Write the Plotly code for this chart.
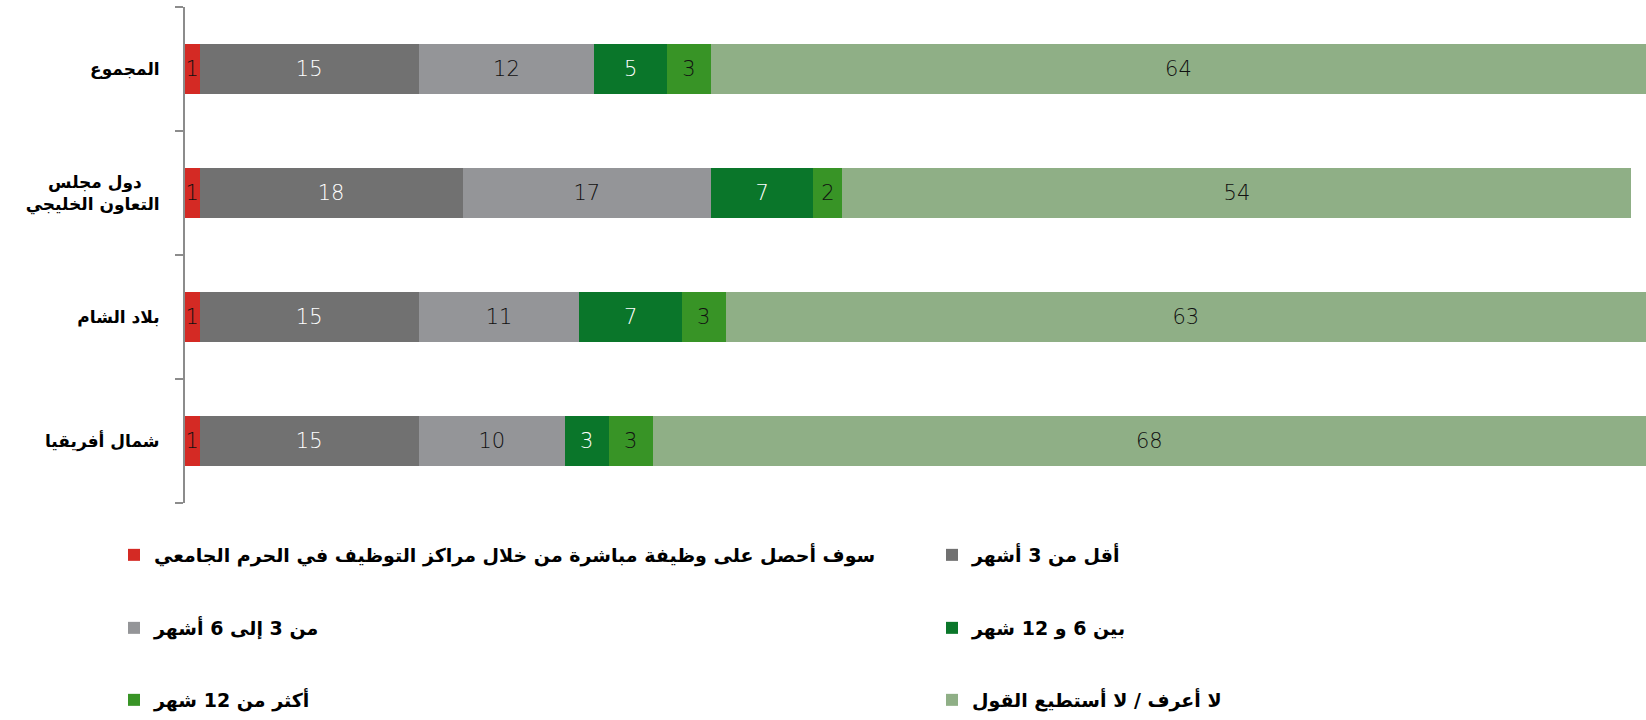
import plotly.graph_objects as go

categories = ["المجموع", "دول مجلس التعاون الخليجي", "بلاد الشام", "شمال أفريقيا"]

series_names = [
    "سوف أحصل على وظيفة مباشرة من خلال مراكز التوظيف في الحرم الجامعي",
    "أقل من 3 أشهر",
    "من 3 إلى 6 أشهر",
    "بين 6 و 12 شهر",
    "أكثر من 12 شهر",
    "لا أعرف / لا أستطيع القول",
]

campus = [1, 1, 1, 1]
under3 = [15, 18, 15, 15]
m3to6 = [12, 17, 11, 10]
m6to12 = [5, 7, 7, 3]
over12 = [3, 2, 3, 3]
dontknow = [64, 54, 63, 68]

values = [campus, under3, m3to6, m6to12, over12, dontknow]
colors = ["#D42A24", "#717171", "#949598", "#0A762A", "#389426", "#8FAF86"]
text_colors = ["#111111", "#FFFFFF", "#111111", "#FFFFFF", "#111111", "#111111"]

# tick label display (line wrapping for the long category)
NB = "\u00a0"
tick_text = {
    "دول مجلس التعاون الخليجي": "دول مجلس" + NB * 3 + "<br>التعاون الخليجي",
}

W, H = 1646, 720
PL, PR, PT, PB = 185, W, 7, 503  # plot area in pixels

fig = go.Figure()
legend_names = ["legend", "legend2", "legend3", "legend4", "legend5", "legend6"]
for i, (name, vals) in enumerate(zip(series_names, values)):
    fig.add_trace(go.Bar(
        y=categories, x=vals, name=name, orientation="h",
        marker=dict(color=colors[i], line=dict(width=0)),
        text=vals, texttemplate="%{x}", textposition="inside",
        insidetextanchor="middle", textangle=0, constraintext="none",
        insidetextfont=dict(family="DejaVu Sans", size=21, color=text_colors[i], weight=300),
        legend=legend_names[i], showlegend=True, hoverinfo="x+name",
    ))

# legend placement (row-major, 2 columns), in pixels
col_left = [114, 932]
row_y = [555, 628, 700]
legends = {}
for i, ln in enumerate(legend_names):
    r, c = divmod(i, 2)
    legends[ln] = dict(
        x=(col_left[c] - PL) / (PR - PL), y=(PB - row_y[r]) / (PB - PT),
        xref="paper", yref="paper", visible=True,
        xanchor="left", yanchor="middle", bgcolor="rgba(0,0,0,0)", borderwidth=0,
        font=dict(family="DejaVu Sans", size=19, color="#000000", weight="bold"),
        itemwidth=30,
    )

fig.update_layout(
    width=W, height=H, showlegend=True,
    barmode="stack", bargap=0.6,
    plot_bgcolor="white", paper_bgcolor="white",
    margin=dict(l=PL, r=W - PR, t=PT, b=H - PB, autoexpand=False, pad=0),
    uniformtext=dict(minsize=21, mode="show"),
    xaxis=dict(range=[0, 100], visible=False, fixedrange=True),
    yaxis=dict(
        type="category", autorange="reversed",
        categoryorder="array", categoryarray=categories,
        tickmode="array", tickvals=categories,
        ticktext=[tick_text.get(c, c) for c in categories],
        showline=True, linecolor="#8C8C8C", linewidth=2,
        ticks="outside", ticklen=8, tickcolor="#8C8C8C", tickwidth=2,
        tickson="boundaries", showgrid=False, zeroline=False,
        tickfont=dict(family="DejaVu Sans", size=17, color="#000000", weight="bold"),
        ticklabelstandoff=20,
    ),
    **legends,
)

fig.write_html(
    "out.html",
    config={"displayModeBar": False},
    post_script="document.body.style.margin='0';document.body.style.overflow='hidden';",
)
